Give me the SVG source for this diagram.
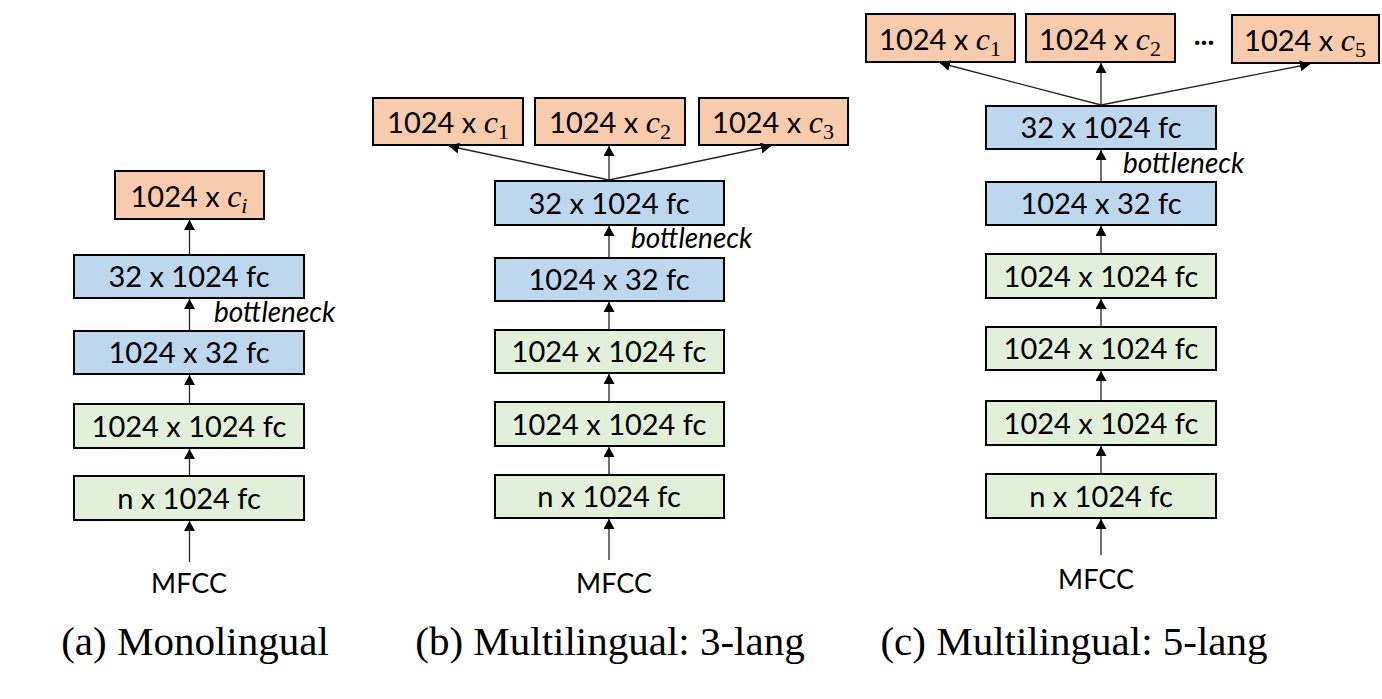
<svg xmlns="http://www.w3.org/2000/svg" width="1382" height="699" viewBox="0 0 1382 699">
  <style>
    .box { stroke: #000; stroke-width: 2; }
    .out { fill: #F8CBAD; }
    .bn  { fill: #BDD7EE; }
    .fc  { fill: #E2F0D9; }
    .lbl { font-family: Lato, "Liberation Sans", sans-serif; font-size: 29px; fill: #000; text-anchor: middle; }
    .math { font-family: "Liberation Serif", serif; font-style: italic; font-size: 32px; }
    .sub { font-family: "Liberation Serif", serif; font-size: 22px; }
    .in  { font-family: Lato, "Liberation Sans", sans-serif; font-size: 27px; fill: #000; text-anchor: middle; }
    .note { font-family: Lato, "Liberation Sans", sans-serif; font-style: italic; font-size: 28px; fill: #000; }
    .cap { font-family: "Liberation Serif", "Times New Roman", serif; font-size: 41px; fill: #000; text-anchor: middle; }
    .conn line { stroke: #222; stroke-width: 1.3; marker-end: url(#arrow); }
  </style>
  <defs>
    <marker id="arrow" markerUnits="userSpaceOnUse" viewBox="0 0 10 11" refX="10" refY="5.5" markerWidth="10" markerHeight="11" orient="auto">
      <path d="M0,0 L10,5.5 L0,11 z" fill="#000"/>
    </marker>
  </defs>

  <rect width="1382" height="699" fill="#fff"/>

  <!-- (a) Monolingual -->
  <g id="a-out">
    <rect class="box out" x="115" y="171" width="149" height="48"/>
    <text class="lbl" x="189" y="207">1024 x <tspan class="math">c</tspan><tspan class="sub" font-style="italic" dy="6">i</tspan></text>
  </g>
  <g id="a-32x1024">
    <rect class="box bn" x="74" y="255" width="230" height="43"/>
    <text class="lbl" x="189" y="287">32 x 1024 fc</text>
  </g>
  <g id="a-1024x32">
    <rect class="box bn" x="74" y="331" width="230" height="43"/>
    <text class="lbl" x="189" y="363">1024 x 32 fc</text>
  </g>
  <g id="a-1024x1024">
    <rect class="box fc" x="74" y="404" width="230" height="44"/>
    <text class="lbl" x="189" y="437">1024 x 1024 fc</text>
  </g>
  <g id="a-nx1024">
    <rect class="box fc" x="74" y="476" width="230" height="44"/>
    <text class="lbl" x="189" y="509">n x 1024 fc</text>
  </g>
  <g id="a-mfcc">
    <text class="in" x="189" y="593">MFCC</text>
  </g>
  <g id="a-bottleneck">
    <text class="note" x="214" y="322">bottleneck</text>
  </g>

  <!-- (b) Multilingual: 3-lang -->
  <g id="b-out1">
    <rect class="box out" x="373" y="98" width="150" height="47"/>
    <text class="lbl" x="448" y="133">1024 x <tspan class="math">c</tspan><tspan class="sub" dy="6">1</tspan></text>
  </g>
  <g id="b-out2">
    <rect class="box out" x="535" y="98" width="150" height="47"/>
    <text class="lbl" x="610" y="133">1024 x <tspan class="math">c</tspan><tspan class="sub" dy="6">2</tspan></text>
  </g>
  <g id="b-out3">
    <rect class="box out" x="699" y="98" width="149" height="47"/>
    <text class="lbl" x="773" y="133">1024 x <tspan class="math">c</tspan><tspan class="sub" dy="6">3</tspan></text>
  </g>
  <g id="b-32x1024">
    <rect class="box bn" x="495" y="181" width="229" height="44"/>
    <text class="lbl" x="609" y="214">32 x 1024 fc</text>
  </g>
  <g id="b-1024x32">
    <rect class="box bn" x="495" y="258" width="229" height="43"/>
    <text class="lbl" x="609" y="290">1024 x 32 fc</text>
  </g>
  <g id="b-1024x1024-1">
    <rect class="box fc" x="495" y="330" width="229" height="43"/>
    <text class="lbl" x="609" y="362">1024 x 1024 fc</text>
  </g>
  <g id="b-1024x1024-2">
    <rect class="box fc" x="495" y="402" width="229" height="44"/>
    <text class="lbl" x="609" y="435">1024 x 1024 fc</text>
  </g>
  <g id="b-nx1024">
    <rect class="box fc" x="495" y="475" width="229" height="43"/>
    <text class="lbl" x="609" y="507">n x 1024 fc</text>
  </g>
  <g id="b-mfcc">
    <text class="in" x="614" y="593">MFCC</text>
  </g>
  <g id="b-bottleneck">
    <text class="note" x="631" y="248">bottleneck</text>
  </g>

  <!-- (c) Multilingual: 5-lang -->
  <g id="c-out1">
    <rect class="box out" x="866" y="14" width="149" height="48"/>
    <text class="lbl" x="940" y="50">1024 x <tspan class="math">c</tspan><tspan class="sub" dy="6">1</tspan></text>
  </g>
  <g id="c-out2">
    <rect class="box out" x="1026" y="14" width="149" height="48"/>
    <text class="lbl" x="1100" y="50">1024 x <tspan class="math">c</tspan><tspan class="sub" dy="6">2</tspan></text>
  </g>
  <g id="c-more">
    <text class="lbl" x="1204" y="45" font-weight="bold" font-size="26">...</text>
  </g>
  <g id="c-out5">
    <rect class="box out" x="1232" y="15" width="147" height="48"/>
    <text class="lbl" x="1305" y="51">1024 x <tspan class="math">c</tspan><tspan class="sub" dy="6">5</tspan></text>
  </g>
  <g id="c-32x1024">
    <rect class="box bn" x="986" y="106" width="230" height="43"/>
    <text class="lbl" x="1101" y="138">32 x 1024 fc</text>
  </g>
  <g id="c-1024x32">
    <rect class="box bn" x="986" y="182" width="230" height="43"/>
    <text class="lbl" x="1101" y="214">1024 x 32 fc</text>
  </g>
  <g id="c-1024x1024-1">
    <rect class="box fc" x="986" y="254" width="230" height="44"/>
    <text class="lbl" x="1101" y="287">1024 x 1024 fc</text>
  </g>
  <g id="c-1024x1024-2">
    <rect class="box fc" x="986" y="327" width="230" height="43"/>
    <text class="lbl" x="1101" y="359">1024 x 1024 fc</text>
  </g>
  <g id="c-1024x1024-3">
    <rect class="box fc" x="986" y="401" width="230" height="44"/>
    <text class="lbl" x="1101" y="434">1024 x 1024 fc</text>
  </g>
  <g id="c-nx1024">
    <rect class="box fc" x="986" y="474" width="230" height="44"/>
    <text class="lbl" x="1101" y="507">n x 1024 fc</text>
  </g>
  <g id="c-mfcc">
    <text class="in" x="1096" y="589">MFCC</text>
  </g>
  <g id="c-bottleneck">
    <text class="note" x="1123" y="173">bottleneck</text>
  </g>

  <!-- connectors -->
  <g id="connectors" class="conn">
    <line x1="189.5" y1="254" x2="189.5" y2="220"/>
    <line x1="189.5" y1="330" x2="189.5" y2="299"/>
    <line x1="189.5" y1="403" x2="189.5" y2="375"/>
    <line x1="189.5" y1="475" x2="189.5" y2="449"/>
    <line x1="189.5" y1="562" x2="189.5" y2="521"/>

    <line x1="609" y1="180" x2="449" y2="146"/>
    <line x1="609" y1="180" x2="609" y2="146"/>
    <line x1="609" y1="180" x2="771" y2="146"/>
    <line x1="609" y1="257" x2="609" y2="226"/>
    <line x1="609" y1="329" x2="609" y2="302"/>
    <line x1="609" y1="401" x2="609" y2="374"/>
    <line x1="609" y1="474" x2="609" y2="447"/>
    <line x1="609" y1="560" x2="609" y2="519"/>

    <line x1="1101" y1="105" x2="940" y2="63"/>
    <line x1="1101" y1="105" x2="1101" y2="63"/>
    <line x1="1101" y1="105" x2="1310" y2="64"/>
    <line x1="1101" y1="181" x2="1101" y2="150"/>
    <line x1="1101" y1="253" x2="1101" y2="226"/>
    <line x1="1101" y1="326" x2="1101" y2="299"/>
    <line x1="1101" y1="400" x2="1101" y2="371"/>
    <line x1="1101" y1="473" x2="1101" y2="446"/>
    <line x1="1101" y1="555" x2="1101" y2="519"/>
  </g>

  <!-- captions -->
  <text class="cap" x="195" y="655">(a) Monolingual</text>
  <text class="cap" x="610" y="655">(b) Multilingual: 3-lang</text>
  <text class="cap" x="1074" y="655">(c) Multilingual: 5-lang</text>
</svg>
